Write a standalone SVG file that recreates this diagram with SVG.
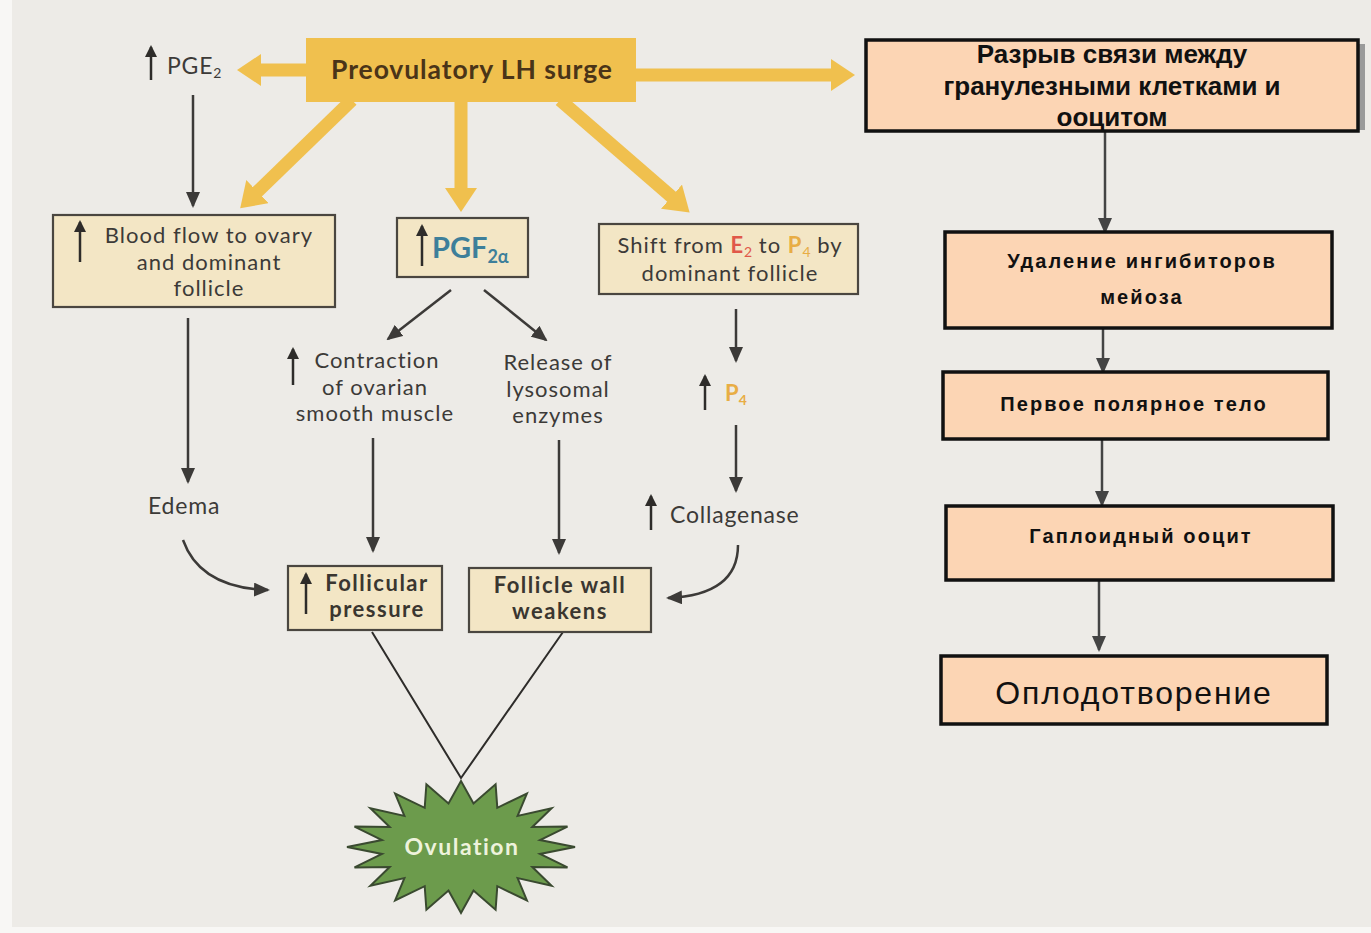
<svg xmlns="http://www.w3.org/2000/svg" width="1371" height="933" viewBox="0 0 1371 933">
<defs>
<style>
.lbl{font-family:Lato,"Open Sans","Liberation Sans",sans-serif;font-size:22px;letter-spacing:1px;fill:#3c3a38;text-anchor:middle}
.lbs{font-family:Lato,"Open Sans","Liberation Sans",sans-serif;font-size:23px;letter-spacing:0.8px;fill:#3c3a38}
.lblb{font-family:Lato,"Open Sans","Liberation Sans",sans-serif;font-size:22px;letter-spacing:1.5px;font-weight:bold;fill:#3a3630;text-anchor:middle}
.sub{font-size:14px;letter-spacing:0}
.beige{fill:#f3e6c5;stroke:#4a4640;stroke-width:2.2}
.peach{fill:#fcd5b4;stroke:#111;stroke-width:3.5}
.ru{font-family:"Liberation Sans",Arial,sans-serif;font-weight:bold;font-size:26px;fill:#111;text-anchor:middle}
.ru2{font-family:"Liberation Sans",Arial,sans-serif;font-weight:bold;font-size:20px;letter-spacing:2.1px;fill:#111;text-anchor:middle}
.yl{stroke:#f0c04e;stroke-width:13;fill:none;marker-end:url(#ya)}
.dk{stroke:#3c3a38;stroke-width:2.5;fill:none;marker-end:url(#da)}
.up{stroke:#2e2c2a;stroke-width:2.5;marker-end:url(#ua)}
.rk{stroke:#444;stroke-width:2.5;fill:none;marker-end:url(#ra)}
.vl{stroke:#2e2c2a;stroke-width:2;fill:none}
</style>
<marker id="ya" markerUnits="userSpaceOnUse" viewBox="0 0 24 32" markerWidth="24" markerHeight="32" refX="2" refY="16" orient="auto"><path d="M0,0 L24,16 L0,32 z" fill="#f0c04e"/></marker>
<marker id="da" markerUnits="userSpaceOnUse" viewBox="0 0 16 14" markerWidth="16" markerHeight="14" refX="14" refY="7" orient="auto"><path d="M0,0 L16,7 L0,14 z" fill="#3c3a38"/></marker>
<marker id="ua" markerUnits="userSpaceOnUse" viewBox="0 0 12 12" markerWidth="12" markerHeight="12" refX="10" refY="6" orient="auto"><path d="M0,0 L12,6 L0,12 z" fill="#2e2c2a"/></marker>
<marker id="ra" markerUnits="userSpaceOnUse" viewBox="0 0 16 14" markerWidth="16" markerHeight="14" refX="14" refY="7" orient="auto"><path d="M0,0 L16,7 L0,14 z" fill="#444"/></marker>
</defs>
<rect x="0" y="0" width="1371" height="933" fill="#f8f7f5"/>
<rect x="12" y="0" width="1359" height="927" fill="#edebe7"/>

<g id="connectors">
<line class="yl" x1="306" y1="70" x2="259" y2="70"/>
<line class="yl" x1="636" y1="75" x2="833" y2="75"/>
<line class="yl" x1="461" y1="100" x2="461" y2="190"/>
<line class="yl" x1="352" y1="100" x2="256" y2="193"/>
<line class="yl" x1="560" y1="100" x2="673" y2="198"/>
<line class="dk" x1="193" y1="95" x2="193" y2="206"/>
<line class="dk" x1="188" y1="318" x2="188" y2="482"/>
<line class="dk" x1="451" y1="290" x2="388" y2="339"/>
<line class="dk" x1="484" y1="290" x2="546" y2="340"/>
<line class="dk" x1="373" y1="438" x2="373" y2="551"/>
<line class="dk" x1="559" y1="440" x2="559" y2="553"/>
<line class="dk" x1="736" y1="309" x2="736" y2="361"/>
<line class="dk" x1="736" y1="425" x2="736" y2="491"/>
<path class="dk" d="M183,540 Q200,588 268,590"/>
<path class="dk" d="M738,545 Q738,595 668,598"/>
<path class="vl" d="M372,632 L461,778 L563,632"/>
<line class="rk" x1="1105" y1="131" x2="1105" y2="232"/>
<line class="rk" x1="1103" y1="328" x2="1103" y2="372"/>
<line class="rk" x1="1102" y1="439" x2="1102" y2="505"/>
<line class="rk" x1="1099" y1="580" x2="1099" y2="650"/>
</g>

<g id="lh">
<rect x="306" y="38" width="330" height="64" fill="#f0c04e"/>
<text x="472" y="79" style="font-family:Lato,'Open Sans','Liberation Sans',sans-serif;font-size:26.5px;letter-spacing:0.9px;font-weight:bold;fill:#4a3418;text-anchor:middle">Preovulatory LH surge</text>
</g>

<g id="pge2">
<line class="up" x1="151" y1="80" x2="151" y2="47"/>
<text class="lbs" x="167" y="74">PGE<tspan class="sub" dy="4">2</tspan></text>
</g>

<g id="bloodflow">
<rect class="beige" x="53" y="215" width="282" height="92"/>
<line class="up" x1="80" y1="262" x2="80" y2="222"/>
<text class="lbl" x="209" y="243">Blood flow to ovary</text>
<text class="lbl" x="209" y="269.5">and dominant</text>
<text class="lbl" x="209" y="296">follicle</text>
</g>

<g id="pgf2a">
<rect class="beige" x="397" y="218" width="131" height="59"/>
<line class="up" x1="422" y1="266" x2="422" y2="226"/>
<text x="432" y="258" style="font-family:Lato,'Open Sans','Liberation Sans',sans-serif;font-size:29px;font-weight:bold;fill:#3d7f9a">PGF<tspan font-size="18" dy="5">2α</tspan></text>
</g>

<g id="shift">
<rect class="beige" x="599" y="224" width="259" height="70"/>
<text class="lbl" x="730" y="253">Shift from <tspan fill="#e0584a" font-weight="bold">E</tspan><tspan class="sub" fill="#e0584a" dy="4">2</tspan><tspan dy="-4"> to </tspan><tspan fill="#e8ad45" font-weight="bold">P</tspan><tspan class="sub" fill="#e8ad45" dy="4">4</tspan><tspan dy="-4"> by</tspan></text>
<text class="lbl" x="730" y="281">dominant follicle</text>
</g>

<g id="contraction">
<line class="up" x1="293" y1="385" x2="293" y2="349"/>
<text class="lbl" x="377" y="368">Contraction</text>
<text class="lbl" x="375" y="394.5">of ovarian</text>
<text class="lbl" x="375" y="421">smooth muscle</text>
</g>

<g id="release">
<text class="lbl" x="558" y="370">Release of</text>
<text class="lbl" x="558" y="396.5">lysosomal</text>
<text class="lbl" x="558" y="423">enzymes</text>
</g>

<g id="p4">
<line class="up" x1="705" y1="410" x2="705" y2="376"/>
<text x="725" y="401" style="font-family:Lato,'Open Sans','Liberation Sans',sans-serif;font-size:22px;font-weight:bold;fill:#e8ad45">P<tspan class="sub" dy="4">4</tspan></text>
</g>

<g id="collagenase">
<line class="up" x1="651" y1="530" x2="651" y2="496"/>
<text class="lbs" x="670" y="523">Collagenase</text>
</g>

<g id="edema">
<text class="lbs" x="148" y="514">Edema</text>
</g>

<g id="follpressure">
<rect class="beige" x="288" y="566" width="154" height="64"/>
<line class="up" x1="306" y1="614" x2="306" y2="574"/>
<text class="lblb" x="377" y="591">Follicular</text>
<text class="lblb" x="377" y="617">pressure</text>
</g>

<g id="wallweakens">
<rect class="beige" x="469" y="568" width="182" height="64"/>
<text class="lblb" x="560" y="593">Follicle wall</text>
<text class="lblb" x="560" y="619">weakens</text>
</g>

<g id="ovulation">
<polygon fill="#6c9b4c" stroke="#3a4a30" stroke-width="2" points="575,847 540,853.9 567.5,867.4 532.3,867 551.6,885.8 517.6,878.1 526.9,900.4 497.3,886.2 495.6,909.8 473.5,890.5 461,913 448.5,890.5 426.4,909.8 424.7,886.2 395.1,900.4 404.4,878.1 370.4,885.8 389.7,867 354.5,867.4 382,853.9 347,847 382,840.1 354.5,826.6 389.7,827 370.4,808.2 404.4,815.9 395.1,793.6 424.7,807.8 426.4,784.2 448.5,803.5 461,781 473.5,803.5 495.6,784.2 497.3,807.8 526.9,793.6 517.6,815.9 551.6,808.2 532.3,827 567.5,826.6 540,840.1"/>
<text x="462" y="855" style="font-family:Lato,'Open Sans','Liberation Sans',sans-serif;font-size:23px;font-weight:bold;fill:#eef3dc;text-anchor:middle;letter-spacing:1.5px">Ovulation</text>
</g>

<g id="rupture">
<rect x="1356" y="44" width="9" height="86" fill="#9a9a9a"/>
<rect class="peach" x="866" y="40" width="492" height="91"/>
<text class="ru" x="1112" y="63">Разрыв связи между</text>
<text class="ru" x="1112" y="95">гранулезными клетками и</text>
<text class="ru" x="1112" y="126">ооцитом</text>
</g>

<g id="inhibitors">
<rect class="peach" x="945" y="232" width="387" height="96"/>
<text class="ru2" x="1142" y="268">Удаление ингибиторов</text>
<text class="ru2" x="1142" y="304">мейоза</text>
</g>

<g id="polar">
<rect class="peach" x="943" y="372" width="385" height="67"/>
<text class="ru2" x="1134" y="411">Первое полярное тело</text>
</g>

<g id="haploid">
<rect class="peach" x="946" y="506" width="387" height="74"/>
<text class="ru2" x="1141" y="543">Гаплоидный ооцит</text>
</g>

<g id="fert">
<rect class="peach" x="941" y="656" width="386" height="68"/>
<text x="1134" y="704" style="font-family:'Liberation Sans',Arial,sans-serif;font-size:32px;letter-spacing:1.8px;fill:#111;text-anchor:middle">Оплодотворение</text>
</g>
</svg>
